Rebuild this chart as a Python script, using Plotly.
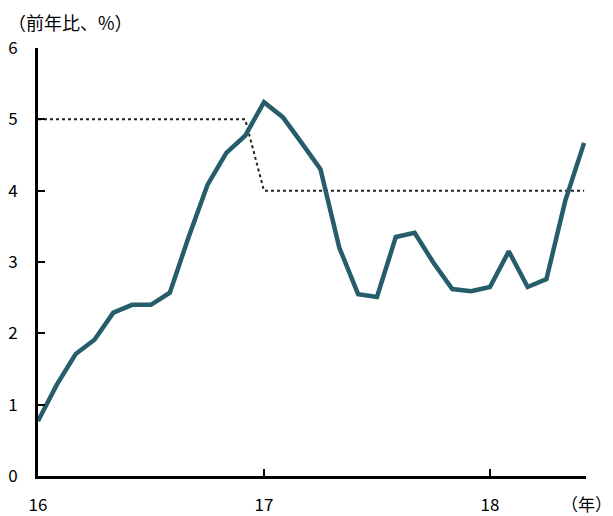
import plotly.graph_objects as go

months = [16 + i / 12 for i in range(30)]
cpi = [0.77, 1.28, 1.71, 1.91, 2.29, 2.40, 2.40, 2.57, 3.35, 4.08, 4.53, 4.77,
       5.24, 5.03, 4.67, 4.30, 3.20, 2.55, 2.51, 3.35, 3.41, 2.99, 2.62, 2.59,
       2.65, 3.15, 2.65, 2.76, 3.86, 4.67]
target_x = [16.0, 16 + 11 / 12, 17.0, 18 + 5 / 12]
target_y = [5, 5, 4, 4]
tick_vals = [16, 17, 18]
tick_text = ["16", "17", "18"]

FONT = "Noto Sans CJK JP"
W, H = 613, 516
ML, MR, MT, MB = 38, 27, 48, 40
PW, PH = W - ML - MR, H - MT - MB

fig = go.Figure()
fig.add_trace(go.Scatter(x=target_x, y=target_y, mode="lines",
                         line=dict(color="#222222", width=2, dash="dot"),
                         hoverinfo="skip", showlegend=False))
fig.add_trace(go.Scatter(x=months, y=cpi, mode="lines",
                         line=dict(color="#255D6A", width=4.5),
                         showlegend=False))

fig.update_layout(
    width=W, height=H,
    margin=dict(l=ML, r=MR, t=MT, b=MB),
    paper_bgcolor="white", plot_bgcolor="white",
    font=dict(family=FONT, size=17, color="black"),
    xaxis=dict(range=[16, 18.425], tickvals=tick_vals, ticktext=tick_text,
               showgrid=False, zeroline=False, showline=True, linecolor="black",
               linewidth=3, ticks="inside", ticklen=7, tickwidth=2, tickcolor="black",
               ticklabelstandoff=12, tickfont=dict(size=17), automargin=False),
    yaxis=dict(range=[0, 6], tickvals=[0, 1, 2, 3, 4, 5, 6],
               showgrid=False, zeroline=False, showline=True, linecolor="black",
               linewidth=3, ticks="inside", ticklen=7, tickwidth=2, tickcolor="black",
               ticklabelstandoff=14, tickfont=dict(size=17), automargin=False),
    annotations=[
        dict(text="（前年比、%）", x=(6 - ML) / PW, y=(H - MB - 22) / PH,
             xref="paper", yref="paper", showarrow=False,
             xanchor="left", yanchor="middle", font=dict(size=18)),
        dict(text="（年）", x=(586 - ML) / PW, y=(H - MB - 504) / PH,
             xref="paper", yref="paper", showarrow=False,
             xanchor="center", yanchor="middle", font=dict(size=17)),
    ],
)

fig.write_html("out.html")
